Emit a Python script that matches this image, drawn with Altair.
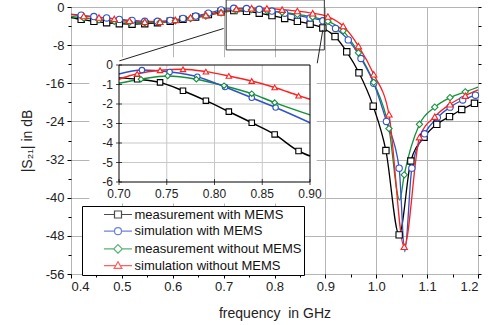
import altair as alt
import pandas as pd

SERIES = ["measurement with MEMS", "simulation with MEMS",
          "measurement without MEMS", "simulation without MEMS"]
COLORS = ["#000000", "#2f52c8", "#14903a", "#ff1f1f"]
SHAPES = ["square", "circle", "diamond", "triangle-up"]
# legend symbols: marker with a line segment through it
LEGEND_PATHS = [
    "M-4,0L-1,0M1,0L4,0M-1,-1L1,-1L1,1L-1,1Z",
    "M-4,0L-1,0M1,0L4,0M-1,0A1,1,0,1,1,1,0A1,1,0,1,1,-1,0Z",
    "M-4,0L-1.2,0M1.2,0L4,0M-1.2,0L0,-1.2L1.2,0L0,1.2Z",
    "M-4,0L-0.6,0M0.6,0L4,0M-1.1,0.8L0,-1.1L1.1,0.8Z",
]

# ---------------- main plot: marker points ----------------
black_f = [0.42, 0.445, 0.47, 0.495, 0.52, 0.545, 0.57, 0.595, 0.62, 0.645,
           0.67, 0.695, 0.72, 0.745, 0.77, 0.795, 0.82, 0.845, 0.87, 0.895,
           0.919, 0.942, 0.966, 0.994, 1.019, 1.045, 1.068, 1.094, 1.119, 1.144,
           1.168, 1.193]
black_v = [-2.6, -3.0, -3.3, -3.5, -3.6, -3.5, -3.3, -3.0, -2.6, -2.1,
           -1.6, -1.0, -0.75, -0.9, -1.3, -1.8, -2.4, -3.0, -3.6, -4.4,
           -6.2, -9.4, -13.8, -20.8, -30.1, -47.8, -32.3, -27.3, -24.6, -23.0,
           -21.5, -20.2]
black_lf = [0.40, 1.20]
black_lv = [-2.2, -19.9]

blue_f = [0.42, 0.445, 0.47, 0.495, 0.52, 0.545, 0.57, 0.595, 0.62, 0.645,
          0.67, 0.695, 0.72, 0.745, 0.77, 0.795, 0.82, 0.845, 0.87, 0.895,
          0.92, 0.945, 0.97, 0.995, 1.02, 1.045, 1.07, 1.095, 1.12, 1.145,
          1.17, 1.195]
blue_v = [-1.7, -2.0, -2.3, -2.6, -2.8, -3.0, -3.0, -2.8, -2.4, -1.9,
          -1.3, -0.6, -0.28, -0.32, -0.48, -0.85, -1.3, -1.75, -2.3, -2.9,
          -4.5, -6.9, -10.8, -16.0, -24.0, -33.8, -33.8, -26.6, -23.2, -21.0,
          -19.5, -18.5]
blue_lf = [0.40, 1.056, 1.20]
blue_lv = [-1.5, -51.3, -18.3]

green_f = [0.425, 0.455, 0.485, 0.515, 0.545, 0.575, 0.605, 0.635, 0.665, 0.695,
           0.725, 0.755, 0.785, 0.815, 0.845, 0.875, 0.905, 0.935, 0.965, 0.995,
           1.025, 1.055, 1.085, 1.115, 1.145, 1.175]
green_v = [-2.3, -2.7, -3.0, -3.2, -3.3, -3.2, -2.9, -2.4, -1.9, -1.2,
           -0.72, -0.56, -0.75, -1.1, -1.55, -2.1, -3.0, -5.0, -9.6, -15.8,
           -25.5, -35.2, -24.6, -21.0, -19.0, -17.8]
green_lf = [0.40, 1.046, 1.20]
green_lv = [-2.0, -40.5, -16.8]

red_f = [0.425, 0.455, 0.485, 0.515, 0.545, 0.575, 0.605, 0.635, 0.665, 0.695,
         0.725, 0.755, 0.785, 0.815, 0.845, 0.875, 0.905, 0.935, 0.965, 0.995,
         1.025, 1.055, 1.085, 1.115, 1.145, 1.175]
red_v = [-1.9, -2.2, -2.5, -2.9, -3.1, -3.1, -2.7, -2.2, -1.7, -1.1,
         -0.4, -0.25, -0.3, -0.55, -0.85, -1.3, -2.0, -4.0, -8.2, -14.1,
         -22.5, -50.3, -27.3, -23.0, -20.4, -18.6]
red_lf = [0.40, 1.20]
red_lv = [-1.6, -17.4]

# ---------------- inset (0.70 - 0.90 GHz) ----------------
i_black_f = [0.719, 0.743, 0.767, 0.791, 0.815, 0.839, 0.863, 0.888]
i_black_v = [-0.73, -0.89, -1.32, -1.83, -2.39, -2.96, -3.56, -4.41]
i_black_lf = [0.70, 0.90]
i_black_lv = [-0.66, -4.67]

i_blue_f = [0.724, 0.753, 0.782, 0.811, 0.839, 0.864]
i_blue_v = [-0.26, -0.36, -0.60, -1.13, -1.68, -2.18]
i_blue_lf = [0.70, 0.90]
i_blue_lv = [-0.46, -2.96]

i_green_f = [0.723, 0.751, 0.781, 0.810, 0.839, 0.863]
i_green_v = [-0.73, -0.56, -0.73, -1.06, -1.47, -1.93]
i_green_lf = [0.70, 0.90]
i_green_lv = [-0.94, -2.56]

i_red_f = [0.719, 0.743, 0.767, 0.791, 0.815, 0.839, 0.863, 0.888]
i_red_v = [-0.45, -0.27, -0.22, -0.34, -0.56, -0.82, -1.15, -1.57]
i_red_lf = [0.70, 0.90]
i_red_lv = [-0.73, -1.76]

# axes ticks
X_TICKS = [0.4, 0.5, 0.6, 0.7, 0.8, 0.9, 1.0, 1.1, 1.2]
X_MINOR = [0.45, 0.55, 0.65, 0.75, 0.85, 0.95, 1.05, 1.15]
Y_TICKS = [-56, -48, -40, -32, -24, -16, -8, 0]
Y_MINOR = [-52, -44, -36, -28, -20, -12, -4]
Y_RIGHT = list(range(-56, 1, 4))
IX_TICKS = [0.70, 0.75, 0.80, 0.85, 0.90]
IY_TICKS = [-6, -5, -4, -3, -2, -1, 0]
IX_GRID = [0.75, 0.80, 0.85]
IY_GRID = [-5, -4, -3, -2, -1]

# zoom box / connectors (main plot units), inset background (inset units)
ZOOM_BOX = {"x": [0.705], "x2": [0.898], "y": [1.5], "y2": [-9.0]}
CONNECT = {"f": [0.70, 0.495, 0.895, 0.884], "v": [-4.5, -11.3, -4.8, -11.8],
           "k": ["a", "a", "b", "b"]}
INSET_BG = {"x": [0.669], "x2": [0.907], "y": [0.4], "y2": [-7.1]}
INSET_BOX = {"x": [0.70], "x2": [0.90], "y": [0.0], "y2": [-6.0]}

FONT = "Liberation Sans"


def build(parts):
    pts, lines = [], []
    for name, f, v, lf, lv in parts:
        pts.append(pd.DataFrame({"f": f, "v": v, "s": name}))
        lines.append(pd.DataFrame({"f": f + lf, "v": v + lv, "s": name}))
    p = pd.concat(pts, ignore_index=True)
    l = pd.concat(lines, ignore_index=True).sort_values(["s", "f"])
    return p, l


main_pts, main_lines = build([
    (SERIES[0], black_f, black_v, black_lf, black_lv),
    (SERIES[1], blue_f, blue_v, blue_lf, blue_lv),
    (SERIES[2], green_f, green_v, green_lf, green_lv),
    (SERIES[3], red_f, red_v, red_lf, red_lv),
])
ins_pts, ins_lines = build([
    (SERIES[0], i_black_f, i_black_v, i_black_lf, i_black_lv),
    (SERIES[1], i_blue_f, i_blue_v, i_blue_lf, i_blue_lv),
    (SERIES[2], i_green_f, i_green_v, i_green_lf, i_green_lv),
    (SERIES[3], i_red_f, i_red_v, i_red_lf, i_red_lv),
])

W, H = 407, 267
mx = alt.Scale(domain=[0.4, 1.2], nice=False, zero=False)
my = alt.Scale(domain=[-56, 0], nice=False, zero=False)
ix = alt.Scale(domain=[0.70, 0.90], range=[48, 239], nice=False, zero=False)
iy = alt.Scale(domain=[-6, 0], range=[175, 58], nice=False, zero=False)
cscale = alt.Scale(domain=SERIES, range=COLORS)
sscale = alt.Scale(domain=SERIES, range=SHAPES)

x_axis = alt.Axis(values=X_TICKS, format=".1f", grid=True, gridColor="#b5b5b5",
                  gridWidth=1, tickSize=4, tickColor="#000", domain=False,
                  labelFontSize=13, labelColor="#222", labelPadding=2,
                  title="frequency \u00a0in GHz", titleFontSize=14, titleFontWeight="normal",
                  titleColor="#222", titlePadding=13, orient="bottom")
y_axis = alt.Axis(values=Y_TICKS, labelExpr="'' + datum.value", grid=True,
                  gridColor="#b5b5b5", gridWidth=1, tickSize=4, tickColor="#000",
                  domain=False, labelFontSize=13, labelColor="#222", labelPadding=3,
                  title="|S₂₁| in dB", titleFontSize=14, titleFontWeight="normal",
                  titleColor="#222", titlePadding=11, orient="left")

dummy = pd.DataFrame({"f": [0.8], "v": [-20]})

main_axes = alt.Chart(dummy).mark_point(opacity=0).encode(
    x=alt.X("f:Q", scale=mx, axis=x_axis),
    y=alt.Y("v:Q", scale=my, axis=y_axis),
)


def curves(lines_df, pts_df, xs, ys, size=40, sw=1.3):
    ln = alt.Chart(lines_df).mark_line(strokeWidth=sw, interpolate="monotone").encode(
        x=alt.X("f:Q", scale=xs, axis=None),
        y=alt.Y("v:Q", scale=ys, axis=None),
        color=alt.Color("s:N", scale=cscale, legend=None),
        detail="s:N",
    )
    pt = alt.Chart(pts_df).mark_point(filled=True, fill="white", opacity=1,
                                      strokeWidth=1.1, size=size).encode(
        x=alt.X("f:Q", scale=xs, axis=None),
        y=alt.Y("v:Q", scale=ys, axis=None),
        stroke=alt.Stroke("s:N", scale=cscale, legend=None),
        shape=alt.Shape("s:N", scale=sscale, legend=None),
    )
    return ln, pt


m_ln, m_pt = curves(main_lines, main_pts, mx, my)
zoom_box = alt.Chart(pd.DataFrame(ZOOM_BOX)).mark_rect(
    filled=False, stroke="#333", strokeWidth=1).encode(
    x=alt.X("x:Q", scale=mx, axis=None), x2="x2",
    y=alt.Y("y:Q", scale=my, axis=None), y2="y2")

minor_axes = alt.Chart(dummy).mark_point(opacity=0).encode(
    x=alt.X("f:Q", scale=mx, axis=alt.Axis(values=X_MINOR, labels=False, grid=False,
                                            domain=False, tickSize=3, tickColor="#000",
                                            title=None, orient="bottom")),
    y=alt.Y("v:Q", scale=my, axis=alt.Axis(values=Y_MINOR, labels=False, grid=False,
                                            domain=False, tickSize=3, tickColor="#000",
                                            title=None, orient="left")),
)
right_axis = alt.Chart(dummy).mark_point(opacity=0).encode(
    x=alt.X("f:Q", scale=mx, axis=None),
    y=alt.Y("v:Q", scale=my, axis=alt.Axis(values=Y_RIGHT, labels=False, grid=False,
                                            domain=False, tickSize=3, tickColor="#000",
                                            title=None, orient="right")),
)

# ---------------- inset ----------------
inset_bg = alt.Chart(pd.DataFrame(INSET_BG)).mark_rect(fill="white").encode(
    x=alt.X("x:Q", scale=ix, axis=None), x2="x2",
    y=alt.Y("y:Q", scale=iy, axis=None), y2="y2")
igx = alt.Chart(pd.DataFrame({"g": IX_GRID})).mark_rule(color="#c8c8c8", strokeWidth=1).encode(
    x=alt.X("g:Q", scale=ix, axis=None),
    y=alt.Y(datum=-6, scale=iy, axis=None), y2=alt.Y2(datum=0))
igy = alt.Chart(pd.DataFrame({"g": IY_GRID})).mark_rule(color="#c8c8c8", strokeWidth=1).encode(
    y=alt.Y("g:Q", scale=iy, axis=None),
    x=alt.X(datum=0.70, scale=ix, axis=None), x2=alt.X2(datum=0.90))
i_ln, i_pt = curves(ins_lines, ins_pts, ix, iy, size=30, sw=1.5)
inset_box = alt.Chart(pd.DataFrame(INSET_BOX)).mark_rect(
    filled=False, stroke="#000", strokeWidth=1).encode(
    x=alt.X("x:Q", scale=ix, axis=None), x2="x2",
    y=alt.Y("y:Q", scale=iy, axis=None), y2="y2")

ixt_df = pd.DataFrame({"t": IX_TICKS, "lbl": [f"{t:.2f}" for t in IX_TICKS]})
iyt_df = pd.DataFrame({"t": IY_TICKS, "lbl": [str(t) for t in IY_TICKS]})
ix_ticks = alt.Chart(ixt_df).mark_tick(orient="vertical", size=6, thickness=1,
                                       color="#000").encode(
    x=alt.X("t:Q", scale=ix, axis=None),
    y=alt.Y(datum=-6, scale=iy, axis=None))
iy_ticks = alt.Chart(iyt_df).mark_tick(orient="horizontal", size=6, thickness=1,
                                       color="#000").encode(
    y=alt.Y("t:Q", scale=iy, axis=None),
    x=alt.X(datum=0.70, scale=ix, axis=None))
ix_labels = alt.Chart(ixt_df).mark_text(baseline="top", dy=7, fontSize=12,
                                        color="#222").encode(
    x=alt.X("t:Q", scale=ix, axis=None),
    y=alt.Y(datum=-6, scale=iy, axis=None),
    text="lbl:N")
iy_labels = alt.Chart(iyt_df).mark_text(align="right", baseline="middle", dx=-6,
                                        fontSize=12, color="#222").encode(
    y=alt.Y("t:Q", scale=iy, axis=None),
    x=alt.X(datum=0.70, scale=ix, axis=None),
    text="lbl:N")

connect = alt.Chart(pd.DataFrame(CONNECT)).mark_line(color="#222", strokeWidth=1).encode(
    x=alt.X("f:Q", scale=mx, axis=None),
    y=alt.Y("v:Q", scale=my, axis=None),
    detail="k:N")

# ---------------- legend ----------------
leg = alt.Legend(orient="none", legendX=11, legendY=199, title=None,
                 labelFontSize=13, labelFont=FONT, labelColor="#111",
                 symbolSize=49, symbolStrokeWidth=1.2, symbolOffset=27.5,
                 labelOffset=10, padding=2, rowPadding=2.7,
                 strokeColor="#000", fillColor="white", zindex=3, labelLimit=300)
legend_layer = alt.Chart(pd.DataFrame({"s": SERIES})).transform_filter("false").mark_point(
    filled=False, strokeWidth=1.2).encode(
    color=alt.Color("s:N", scale=cscale, legend=leg),
    shape=alt.Shape("s:N", scale=alt.Scale(domain=SERIES, range=LEGEND_PATHS), legend=leg),
)

chart = alt.layer(
    main_axes, m_ln, m_pt, zoom_box, minor_axes, right_axis,
    inset_bg, igx, igy, i_ln, i_pt, inset_box, ix_ticks, iy_ticks, ix_labels, iy_labels,
    connect, legend_layer,
).resolve_scale(
    x="independent", y="independent", color="independent",
    shape="independent", stroke="independent",
).properties(
    width=W, height=H,
    padding={"left": 71, "top": 7, "right": 15, "bottom": 51},
    autosize=alt.AutoSizeParams(type="none"),
).configure(font=FONT).configure_view(stroke="#000", strokeWidth=1)

chart.save("out.html", embed_options={"renderer": "svg", "actions": False})
